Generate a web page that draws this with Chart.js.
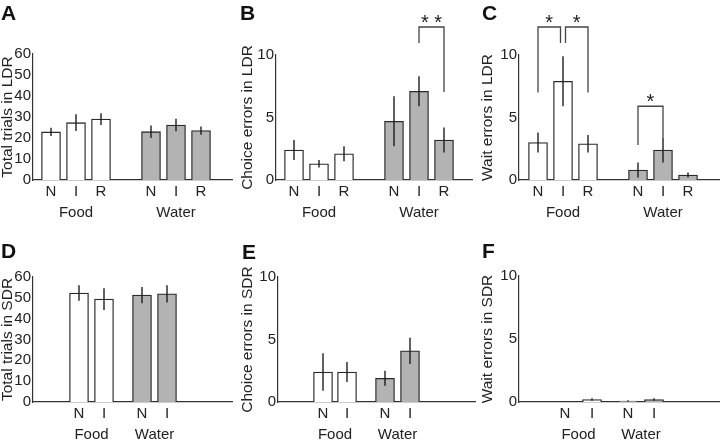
<!DOCTYPE html>
<html lang="en">
<head>
<meta charset="UTF-8">
<title>Trials and errors in LDR / SDR</title>
<script src="https://cdn.jsdelivr.net/npm/chart.js"></script>
<style>
  body { margin: 0; background: #fff; }
  #fig { position: relative; width: 720px; height: 440px; overflow: hidden; }
  .panel { position: absolute; width: 240px; height: 220px; }
  .letter { position: absolute; font: bold 21px/21px 'Liberation Sans', Arial, sans-serif; color: #111; }
</style>
</head>
<body>
<div id="fig">
  <div class="panel" style="left:0;top:0"><canvas id="chartA" width="240" height="220"></canvas></div>
  <div class="panel" style="left:240px;top:0"><canvas id="chartB" width="240" height="220"></canvas></div>
  <div class="panel" style="left:480px;top:0"><canvas id="chartC" width="240" height="220"></canvas></div>
  <div class="panel" style="left:0;top:220px"><canvas id="chartD" width="240" height="220"></canvas></div>
  <div class="panel" style="left:240px;top:220px"><canvas id="chartE" width="240" height="220"></canvas></div>
  <div class="panel" style="left:480px;top:220px"><canvas id="chartF" width="240" height="220"></canvas></div>
  <div class="letter" style="left:1px;top:2px">A</div>
  <div class="letter" style="left:240px;top:2px">B</div>
  <div class="letter" style="left:482px;top:2px">C</div>
  <div class="letter" style="left:1px;top:240px">D</div>
  <div class="letter" style="left:242px;top:241px">E</div>
  <div class="letter" style="left:482px;top:240px">F</div>
</div>

<script>
// ---- data ----
const groupNames = ['Food', 'Water'];
const condLDR = ['N', 'I', 'R'];
const condSDR = ['N', 'I'];

// A: total trials in LDR
const trialsLDRFood = [22.9, 27.3, 29.0];
const trialsLDRFoodErr = [2.0, 4.0, 2.8];
const trialsLDRWater = [23.0, 26.2, 23.5];
const trialsLDRWaterErr = [3.0, 3.0, 2.0];

// B: choice errors in LDR
const choiceLDRFood = [2.4, 1.3, 2.1];
const choiceLDRFoodErr = [0.8, 0.3, 0.6];
const choiceLDRWater = [4.7, 7.1, 3.2];
const choiceLDRWaterErr = [2.0, 1.2, 1.0];

// C: wait errors in LDR
const waitLDRFood = [3.0, 7.9, 2.9];
const waitLDRFoodErr = [0.8, 2.0, 0.7];
const waitLDRWater = [0.8, 2.4, 0.4];
const waitLDRWaterErr = [0.6, 1.0, 0.2];

// D: total trials in SDR
const trialsSDRFood = [52.3, 49.4];
const trialsSDRFoodErr = [3.7, 5.2];
const trialsSDRWater = [51.3, 51.9];
const trialsSDRWaterErr = [3.9, 4.1];

// E: choice errors in SDR
const choiceSDRFood = [2.4, 2.4];
const choiceSDRFoodErr = [1.5, 0.8];
const choiceSDRWater = [1.9, 4.1];
const choiceSDRWaterErr = [0.6, 1.05];

// F: wait errors in SDR
const waitSDRFood = [0, 0.2];
const waitSDRFoodErr = [0, 0.1];
const waitSDRWater = [0.08, 0.2];
const waitSDRWaterErr = [0.05, 0.1];

// significance brackets (x in slot units, y in data units)
const bracketsB = [{ from: 6, to: 7, top: 12.24, leftEnd: 10.96, rightEnd: 7.04, mark: '* *' }];
const bracketsC = [
  { from: 1, to: 1.9, top: 12.24, leftEnd: 7.0, rightEnd: 10.96, mark: '*' },
  { from: 2.1, to: 3, top: 12.24, leftEnd: 10.96, rightEnd: 7.0, mark: '*' },
  { from: 5, to: 6, top: 5.9, leftEnd: 2.8, rightEnd: 3.4, mark: '*' }
];

// ---- styling ----
const SLOT_PX = 25;
const GRAY = '#b3b3b3';
const EDGE = '#2a2a2a';
const AXIS = '#333';
const TEXT = '#222';
const FONT = "'Liberation Sans', Arial, sans-serif";

Chart.defaults.font.family = FONT;
Chart.defaults.color = TEXT;

const errorBars = {
  id: 'errorBars',
  afterDatasetsDraw(chart) {
    const ctx = chart.ctx, ys = chart.scales.y;
    ctx.save();
    ctx.strokeStyle = '#1e1e1e';
    ctx.lineWidth = 1.4;
    chart.data.datasets.forEach((ds, di) => {
      chart.getDatasetMeta(di).data.forEach((bar, i) => {
        const v = ds.data[i].y, e = ds.err[i];
        if (!e) return;
        ctx.beginPath();
        ctx.moveTo(bar.x, ys.getPixelForValue(v - e));
        ctx.lineTo(bar.x, ys.getPixelForValue(v + e));
        ctx.stroke();
      });
    });
    ctx.restore();
  }
};

function bracketPlugin(list) {
  return {
    id: 'brackets',
    afterDatasetsDraw(chart) {
      const ctx = chart.ctx, xs = chart.scales.x, ys = chart.scales.y;
      ctx.save();
      ctx.strokeStyle = '#444';
      ctx.lineWidth = 1.3;
      ctx.fillStyle = TEXT;
      ctx.font = '20px ' + FONT;
      ctx.textAlign = 'center';
      ctx.textBaseline = 'alphabetic';
      list.forEach(b => {
        const x1 = xs.getPixelForValue(b.from), x2 = xs.getPixelForValue(b.to);
        const top = ys.getPixelForValue(b.top);
        ctx.beginPath();
        ctx.moveTo(x1, ys.getPixelForValue(b.leftEnd));
        ctx.lineTo(x1, top);
        ctx.lineTo(x2, top);
        ctx.lineTo(x2, ys.getPixelForValue(b.rightEnd));
        ctx.stroke();
        ctx.fillText(b.mark, (x1 + x2) / 2, top + 2);
      });
      ctx.restore();
    }
  };
}

function makePanel(id, p) {
  const xmax = p.xmin + (p.right - p.left) / SLOT_PX;

  // tick labels: condition on the first line, group name on the second
  const tickMap = {};
  const addTick = (v, line, text) => {
    const k = v.toFixed(3);
    if (!tickMap[k]) tickMap[k] = { v: v, lines: ['', ''] };
    tickMap[k].lines[line] = text;
  };
  p.conds.forEach((c, i) => { addTick(p.foodX[i], 0, c); addTick(p.waterX[i], 0, c); });
  addTick(p.groupX[0], 1, groupNames[0]);
  addTick(p.groupX[1], 1, groupNames[1]);
  const tickVals = Object.values(tickMap).sort((a, b) => a.v - b.v);

  new Chart(document.getElementById(id), {
    type: 'bar',
    data: {
      datasets: [
        {
          label: groupNames[0],
          data: p.food.map((y, i) => ({ x: p.foodX[i], y: y })),
          err: p.foodErr,
          backgroundColor: '#fff', borderColor: EDGE, borderWidth: 1.3,
          barThickness: 19, grouped: false
        },
        {
          label: groupNames[1],
          data: p.water.map((y, i) => ({ x: p.waterX[i], y: y })),
          err: p.waterErr,
          backgroundColor: GRAY, borderColor: EDGE, borderWidth: 1.3,
          barThickness: 19, grouped: false
        }
      ]
    },
    options: {
      responsive: false,
      animation: false,
      layout: { padding: { left: 0, right: 240 - p.right, top: p.top, bottom: 0 } },
      plugins: { legend: { display: false }, tooltip: { enabled: false } },
      scales: {
        x: {
          type: 'linear', min: p.xmin, max: xmax, offset: false,
          grid: { display: false, drawTicks: false },
          border: { color: AXIS, width: 1.2 },
          afterBuildTicks: s => { s.ticks = tickVals.map(t => ({ value: t.v })); },
          afterFit: s => { s.height = 220 - p.bottom; },
          ticks: {
            autoSkip: false, maxRotation: 0, padding: 1.5,
            font: { size: 15, lineHeight: 1.38 },
            callback: v => { const t = tickMap[Number(v).toFixed(3)]; return t ? t.lines : ''; }
          }
        },
        y: {
          min: 0, max: p.ymax,
          grid: { display: false, drawTicks: false },
          border: { color: AXIS, width: 1.2 },
          afterFit: s => { s.width = p.left; },
          ticks: { stepSize: p.step, autoSkip: false, padding: 2, font: { size: 15, lineHeight: 1 } },
          title: {
            display: true, text: p.title,
            font: { size: 15.5, lineHeight: 1 }, padding: { top: 0, bottom: 0 }
          }
        }
      }
    },
    plugins: [errorBars, bracketPlugin(p.brackets || [])]
  });
}

makePanel('chartA', {
  title: 'Total trials in LDR', ymax: 60, step: 10,
  left: 33, right: 232, top: 54, bottom: 180, xmin: 0.28,
  conds: condLDR, foodX: [1, 2, 3], waterX: [5, 6, 7], groupX: [2, 6],
  food: trialsLDRFood, foodErr: trialsLDRFoodErr, water: trialsLDRWater, waterErr: trialsLDRWaterErr
});
makePanel('chartB', {
  title: 'Choice errors in LDR', ymax: 10, step: 5,
  left: 36, right: 232, top: 55, bottom: 180, xmin: 0.28,
  conds: condLDR, foodX: [1, 2, 3], waterX: [5, 6, 7], groupX: [2, 6],
  food: choiceLDRFood, foodErr: choiceLDRFoodErr, water: choiceLDRWater, waterErr: choiceLDRWaterErr,
  brackets: bracketsB
});
makePanel('chartC', {
  title: 'Wait errors in LDR', ymax: 10, step: 5,
  left: 39, right: 240, top: 55, bottom: 180, xmin: 0.24,
  conds: condLDR, foodX: [1, 2, 3], waterX: [5, 6, 7], groupX: [2, 6],
  food: waitLDRFood, foodErr: waitLDRFoodErr, water: waitLDRWater, waterErr: waitLDRWaterErr,
  brackets: bracketsC
});
makePanel('chartD', {
  title: 'Total trials in SDR', ymax: 60, step: 10,
  left: 33, right: 232, top: 57, bottom: 182, xmin: -0.84,
  conds: condSDR, foodX: [1, 2], waterX: [3.52, 4.52], groupX: [1.5, 4.02],
  food: trialsSDRFood, foodErr: trialsSDRFoodErr, water: trialsSDRWater, waterErr: trialsSDRWaterErr
});
makePanel('chartE', {
  title: 'Choice errors in SDR', ymax: 10, step: 5,
  left: 38, right: 235, top: 57, bottom: 182, xmin: -0.8,
  conds: condSDR, foodX: [1, 1.96], waterX: [3.48, 4.48], groupX: [1.48, 3.98],
  food: choiceSDRFood, foodErr: choiceSDRFoodErr, water: choiceSDRWater, waterErr: choiceSDRWaterErr
});
makePanel('chartF', {
  title: 'Wait errors in SDR', ymax: 10, step: 5,
  left: 39, right: 240, top: 56, bottom: 182, xmin: -0.84,
  conds: condSDR, foodX: [1, 2.08], waterX: [3.52, 4.56], groupX: [1.54, 4.04],
  food: waitSDRFood, foodErr: waitSDRFoodErr, water: waitSDRWater, waterErr: waitSDRWaterErr
});
</script>
</body>
</html>
